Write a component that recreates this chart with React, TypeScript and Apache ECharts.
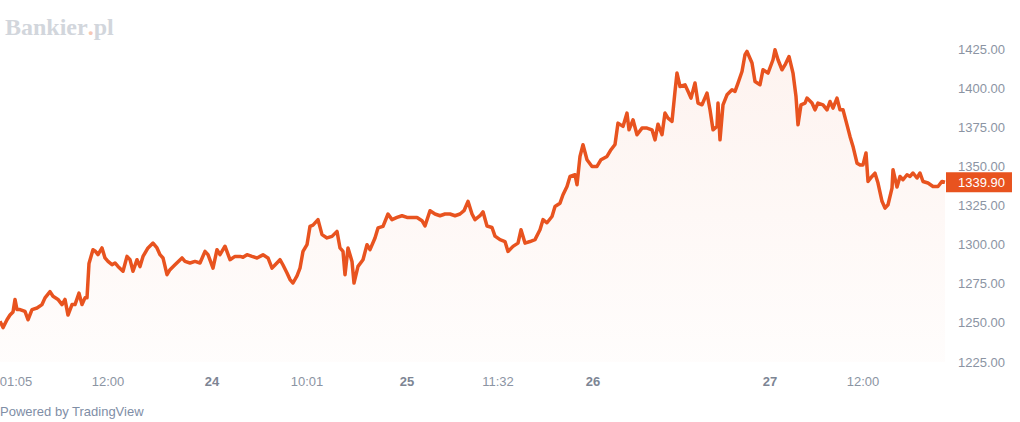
import React, { useEffect, useRef } from "react";
import * as echarts from "echarts";

// bar index (trading-time position) and closing price
const barIndex = [
  0, 3, 7, 10, 13, 15, 17, 20, 25, 28, 32, 37, 42, 45, 50, 53, 58, 62, 65, 68, 72, 75, 79, 82, 85, 87,
  89, 93, 95, 98, 102, 105, 108, 112, 115, 118, 123, 127, 130, 133, 137, 140, 143, 148, 153, 157, 160,
  163, 167, 170, 175, 182, 185, 190, 195, 200, 205, 208, 213, 217, 220, 225, 230, 235, 240,
  243, 247, 252, 257, 263, 268, 272, 275, 280, 283, 287, 290, 293, 297, 300, 303, 307, 310, 313, 318,
  322, 327, 332, 337, 340, 343, 345, 348, 352, 354, 358, 363, 367, 370, 375, 378, 383, 388, 392, 397,
  402, 407, 412, 417, 422, 425, 430, 435, 440, 445, 450, 455, 460, 464, 468, 472, 475, 480,
  483, 487, 492, 495, 500, 505, 508, 513, 518, 521, 525, 530, 535, 540, 543, 547, 552, 555, 560, 563,
  567, 570, 575, 577, 580, 583, 587, 592, 597, 601, 607, 611, 615, 618, 623, 627, 629, 633, 637, 642,
  647, 652, 655, 658, 662, 665, 668, 672, 675, 677, 680, 685, 688, 691, 695, 698, 702, 707, 710, 713,
  717, 718, 720,
  723, 727, 732, 735, 738, 742, 745, 747, 752, 755, 760, 763, 768, 773, 775, 778, 782, 785, 789, 793,
  796, 798, 801, 805, 807, 812, 815, 818, 823, 827, 830, 833, 837, 840, 843, 847, 850, 853, 857, 860,
  863, 866, 868, 872, 875, 878, 882, 885, 888, 892, 893, 897, 900, 903, 907, 910, 913, 917, 920, 923,
  928, 933, 938, 942, 945,
];

const prices = [
  1251, 1247, 1252, 1255, 1257, 1265, 1258.5, 1258.5, 1257.3, 1252, 1258.5, 1259.5, 1261.7, 1266, 1270,
  1267, 1265, 1261.7, 1265, 1255, 1261.7, 1261.7, 1269, 1261.7, 1266, 1266,
  1288, 1296.8, 1296, 1293.6, 1297.9, 1291.5, 1289.3, 1287.2, 1288.3, 1286.1, 1283, 1292.5, 1290.4, 1283,
  1290.4, 1286, 1292.5, 1297.9, 1301, 1297.9, 1293.6, 1291.5, 1280.8, 1284, 1287.2, 1291.5, 1289.3,
  1288.3, 1289.3, 1288.3, 1295.7, 1293.6, 1285, 1296.8, 1293.6, 1299, 1290.4, 1292.5, 1292.5,
  1292, 1293.6, 1292.5, 1291.5, 1293.5, 1291.5, 1285, 1287, 1290.4, 1287, 1281.9, 1277.7, 1275.5, 1280,
  1285, 1295.7, 1300, 1311.7, 1312.5, 1316, 1306.4, 1304.3, 1305.3, 1308.5, 1297.9, 1295.7, 1280.8,
  1297.9, 1289.3, 1275.5, 1286.1, 1290.4, 1300, 1296.8, 1304.3, 1310.7, 1311.7, 1319.6, 1316, 1317.4,
  1318.5, 1317.4, 1317.4, 1317.4, 1315.3, 1312, 1321.7, 1319.6, 1318.5, 1319.6, 1319.6, 1318.5, 1319.6,
  1321.7, 1327.7, 1319.6, 1316, 1318.5,
  1321, 1311.9, 1311, 1305.5, 1303.2, 1302, 1295.7, 1298.9, 1301, 1309.5, 1301, 1302, 1303.2, 1309.5,
  1316, 1314, 1318, 1324.4, 1326.5, 1331.9, 1337.2, 1343.6, 1344.7, 1338.3, 1356.4, 1363.9, 1354.3,
  1350, 1350, 1354.3, 1356.4, 1360.7, 1364, 1377.7, 1375.6, 1384.1, 1373.4, 1379.8, 1370.3, 1374.5,
  1374.5, 1373.4, 1367, 1377, 1370.3, 1384.1, 1380.9, 1378.8, 1398, 1409.7, 1401.1, 1402.2, 1398,
  1393.7, 1403.3, 1390.5, 1389.4, 1396.9, 1386.2, 1373.4, 1375.6, 1390.5, 1367,
  1389.4, 1395.8, 1399, 1398, 1403.3, 1410.7, 1421.4, 1423.5, 1416.1, 1404.3, 1402.2, 1411.8, 1409.7,
  1418.2, 1424.6, 1418.2, 1411.8, 1414.9, 1420.3, 1409.7, 1394.7, 1376.6, 1389.4, 1390.5, 1393.7,
  1390.5, 1386.2, 1390.5, 1389.4, 1386.2, 1391.5, 1387.3, 1393.7, 1386.2, 1386.2, 1376.6, 1369.2,
  1362.8, 1352.1, 1351, 1351, 1358.6, 1340.4, 1343.6, 1345.7, 1339.4, 1327.7, 1323.4, 1325.5, 1336.2,
  1347.9, 1336.8, 1343.6, 1341.5, 1344.7, 1343.6, 1345.8, 1342.6, 1345.8, 1340.4, 1339.4, 1337.2,
  1337.2, 1340.4, 1339.9,
];

const tickBars = [16, 108, 212, 307, 407, 498, 593, 770, 863];
const tickLabels = ["01:05", "12:00", "24", "10:01", "25", "11:32", "26", "27", "12:00"];
const dayLabels = ["24", "25", "26", "27"];
const lastPrice = "1339.90";

const LINE = "#e8531f";
const AXIS_TXT = "#8b94a3";
const FONT = "'Liberation Sans', Arial, sans-serif";

export default function App() {
  const ref = useRef<HTMLDivElement>(null);

  useEffect(() => {
    if (!ref.current) return;
    const chart = echarts.init(ref.current, undefined, { renderer: "svg" });
    const data = barIndex.map((b, i) => [b, prices[i]]);
    chart.setOption({
      animation: false,
      backgroundColor: "#ffffff",
      grid: {
        left: 0,
        right: 75,
        top: 10,
        bottom: 60,
        containLabel: false,
        outerBoundsMode: "none",
      },
      xAxis: {
        type: "value",
        min: 0,
        max: 945,
        splitLine: { show: false },
        axisLine: { show: false },
        axisTick: { show: false, customValues: tickBars },
        axisLabel: {
          customValues: tickBars,
          margin: 13,
          color: AXIS_TXT,
          fontSize: 13,
          fontFamily: FONT,
          formatter: (v: number) => {
            const i = tickBars.indexOf(Math.round(v));
            if (i < 0) return "";
            const t = tickLabels[i];
            return dayLabels.includes(t) ? `{d|${t}}` : t;
          },
          rich: {
            d: { color: "#7d8594", fontWeight: "bold", fontSize: 13, fontFamily: FONT },
          },
        },
      },
      yAxis: {
        type: "value",
        position: "right",
        min: 1225,
        max: 1450,
        interval: 25,
        splitLine: { show: false },
        axisLine: { show: false },
        axisTick: { show: false },
        axisLabel: {
          showMaxLabel: false,
          margin: 13,
          color: AXIS_TXT,
          fontSize: 13,
          fontFamily: FONT,
          formatter: (v: number) => v.toFixed(2),
        },
      },
      series: [
        {
          type: "line",
          data,
          showSymbol: false,
          symbol: "none",
          lineStyle: { color: LINE, width: 3.5, join: "round" },
          areaStyle: {
            origin: "start",
            color: new echarts.graphic.LinearGradient(0, 0, 0, 1, [
              { offset: 0, color: "rgba(232,83,31,0.10)" },
              { offset: 1, color: "rgba(232,83,31,0.02)" },
            ]),
          },
          markLine: {
            silent: true,
            symbol: "none",
            lineStyle: { color: "transparent", width: 0 },
            data: [{ yAxis: prices[prices.length - 1] }],
            label: {
              show: true,
              position: "end",
              distance: 1,
              formatter: lastPrice,
              color: "#ffffff",
              backgroundColor: LINE,
              fontSize: 13,
              fontFamily: FONT,
              lineHeight: 14,
              padding: [3, 7, 3, 12],
            },
          },
        },
      ],
      graphic: [
        {
          type: "text",
          left: 5,
          top: 15,
          style: {
            text: "{a|Bankier}{b|.}{a|pl}",
            rich: {
              a: {
                fontFamily: "'Liberation Serif', 'Times New Roman', serif",
                fontWeight: "bold",
                fontSize: 24,
                fill: "#d2d6dc",
              },
              b: {
                fontFamily: "'Liberation Serif', 'Times New Roman', serif",
                fontWeight: "bold",
                fontSize: 24,
                fill: "#f6c8b4",
              },
            },
          },
        },
        {
          type: "text",
          left: 0,
          top: 405,
          style: {
            text: "Powered by TradingView",
            fontFamily: FONT,
            fontSize: 13,
            fill: "#7f8ea6",
          },
        },
      ],
    });
    return () => chart.dispose();
  }, []);

  return (
    <div
      ref={ref}
      style={{ position: "absolute", left: 0, top: 0, width: 1020, height: 422 }}
    />
  );
}
